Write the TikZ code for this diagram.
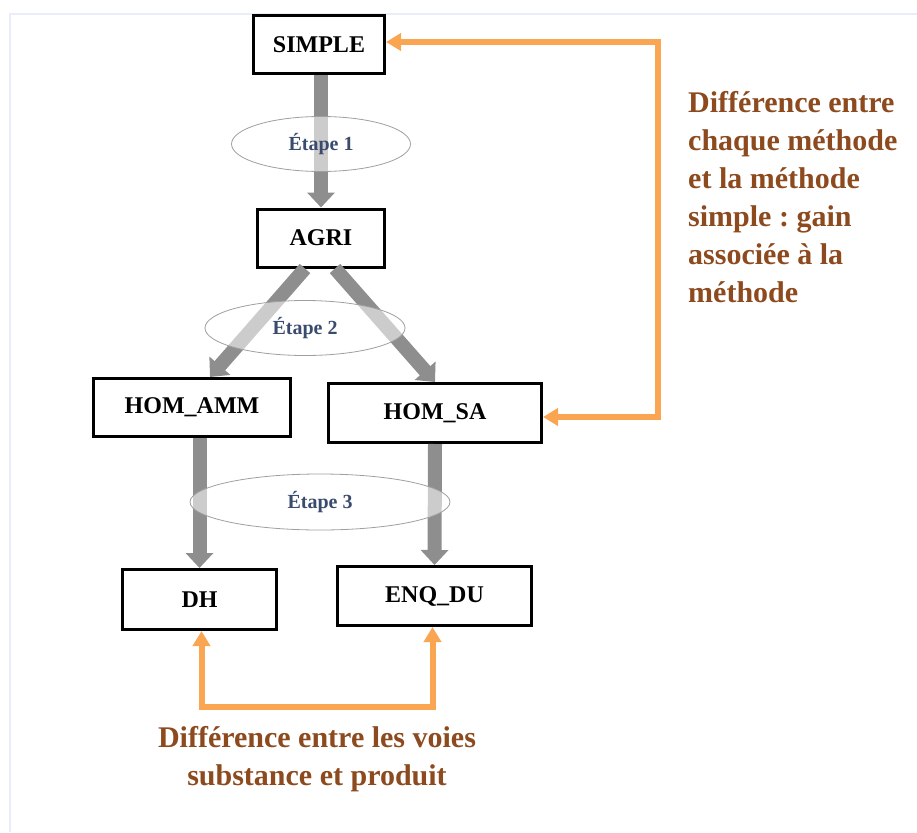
\documentclass[tikz,border=0pt]{standalone}
\usepackage{fontspec}
\setmainfont{Liberation Serif}
\usetikzlibrary{arrows.meta,shapes.geometric}
\definecolor{arrowgray}{HTML}{8E8E8E}
\definecolor{linkorange}{HTML}{F9A552}
\definecolor{notebrown}{HTML}{8C4A1E}
\definecolor{stepblue}{HTML}{3A4C6E}
\definecolor{pageframe}{HTML}{E9EDF8}
\frenchspacing
\begin{document}
\begin{tikzpicture}[x=1pt,y=-1pt]
  \tikzstyle{box}=[rectangle, draw, line width=3pt, fill=white, inner sep=0pt, font=\bfseries\fontsize{24}{28}\selectfont]
  \tikzstyle{stage}=[ellipse, draw=gray!75, line width=0.8pt, fill=white, fill opacity=0.55, text opacity=1, text=stepblue, inner sep=0pt, font=\bfseries\fontsize{20}{24}\selectfont]
  \tikzstyle{flow}=[draw=arrowgray, line width=14pt, -{Triangle[width=27pt,length=15pt]}]
  \tikzstyle{link}=[draw=linkorange, line width=6pt, {Triangle[width=17pt,length=15pt]}-{Triangle[width=17pt,length=15pt]}]
  \tikzstyle{note}=[text=notebrown, inner sep=0pt, font=\bfseries\fontsize{30}{38}\selectfont]

  \useasboundingbox (0,0) rectangle (917,832);
  \draw[pageframe, line width=2pt] (10,832) -- (10,14) -- (917,14);

  \node[box, minimum width=131pt, minimum height=58pt] (simple) at (319,45)    {SIMPLE};
  \node[box, minimum width=127pt, minimum height=58pt] (agri)   at (321,238)   {AGRI};
  \node[box, minimum width=197pt, minimum height=58pt] (homamm) at (192,407.5) {HOM\_AMM};
  \node[box, minimum width=213pt, minimum height=59pt] (homsa)  at (435,413)   {HOM\_SA};
  \node[box, minimum width=154pt, minimum height=60pt] (dh)     at (199.5,599.5) {DH};
  \node[box, minimum width=194pt, minimum height=59pt] (enqdu)  at (434.5,596) {ENQ\_DU};

  \path (simple.south -| agri.north) edge[flow] (agri.north);
  \path ([xshift=-16pt]agri.south) edge[flow] ([xshift=18pt]homamm.north);
  \path ([xshift=14pt]agri.south) edge[flow] (homsa.north);
  \path (homamm.south -| dh.north) edge[flow] (dh.north);
  \path (homsa.south) edge[flow] (enqdu.north);

  \node[stage, minimum width=179pt, minimum height=55pt] (etape1) at (321,144) {Étape 1};
  \node[stage, minimum width=200pt, minimum height=55pt] (etape2) at (305,328) {Étape 2};
  \node[stage, minimum width=260pt, minimum height=56pt] (etape3) at (320,502) {Étape 3};

  \draw[link] ([yshift=3pt]simple.east) -- ++(272,0) |- ([yshift=-4pt]homsa.east);
  \draw[link] ([xshift=2pt]dh.south) -- ++(0,76) -| ([xshift=-2pt]enqdu.south);

  \node[note, anchor=north west, align=left] (gain) at (688,91)
    {Différence entre\\chaque méthode\\et la méthode\\simple : gain\\associée à la\\méthode};
  \node[note, anchor=north, align=center] (voies) at (317,726)
    {Différence entre les voies\\substance et produit};
\end{tikzpicture}
\end{document}
